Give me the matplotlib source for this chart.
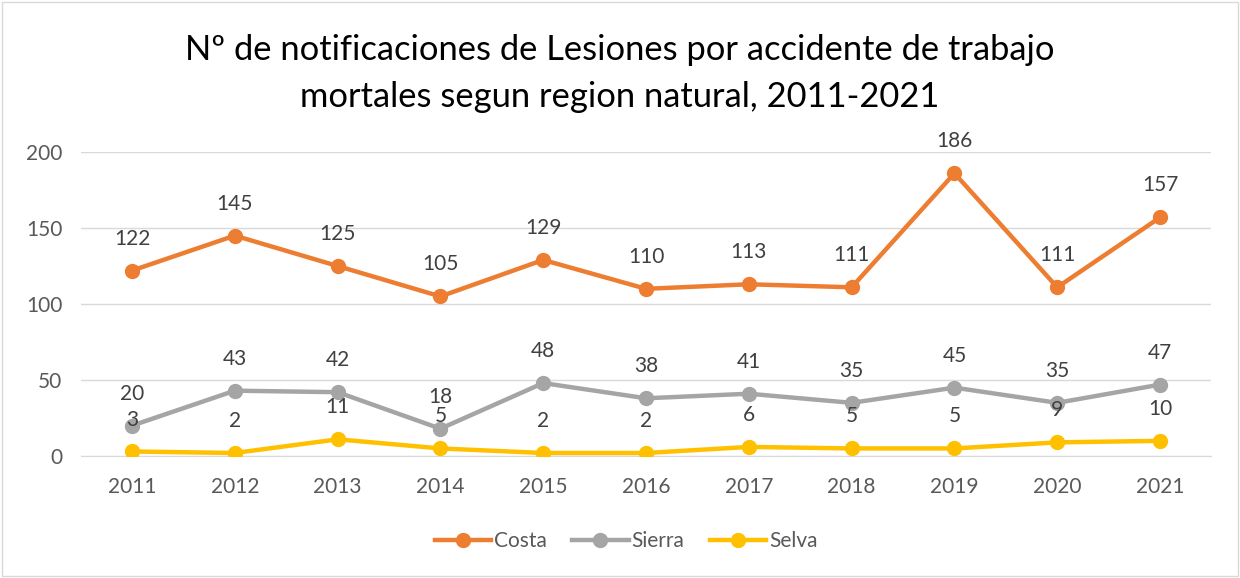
import matplotlib.pyplot as plt
from matplotlib.patches import Rectangle

# Data
years = ['2011', '2012', '2013', '2014', '2015', '2016', '2017', '2018', '2019', '2020', '2021']
costa = [122, 145, 125, 105, 129, 110, 113, 111, 186, 111, 157]
sierra = [20, 43, 42, 18, 48, 38, 41, 35, 45, 35, 47]
selva = [3, 2, 11, 5, 2, 2, 6, 5, 5, 9, 10]

TEXT_COLOR = '#595959'
plt.rcParams['font.family'] = ['Lato', 'DejaVu Sans']


def plot_chart():
    fig = plt.figure(figsize=(12.4, 5.78), dpi=100)
    ax = fig.add_axes([0.065, 0.211, 0.912, 0.526])

    x = list(range(len(years)))
    series = [('Costa', costa, '#ED7D31'),
              ('Sierra', sierra, '#A5A5A5'),
              ('Selva', selva, '#FFC000')]
    for name, vals, color in series:
        ax.plot(x, vals, color=color, linewidth=3.2, marker='o', markersize=10,
                label=name, zorder=3)
        for xi, v in zip(x, vals):
            ax.annotate(str(v), (xi, v), xytext=(0, 23), textcoords='offset points',
                        ha='center', va='center', fontsize=15, color='#404040')

    ax.set_xlim(-0.5, len(years) - 0.5)
    ax.set_ylim(0, 200)
    ax.set_yticks([0, 50, 100, 150, 200])
    ax.set_xticks(x)
    ax.set_xticklabels(years)
    ax.tick_params(axis='y', length=0, labelsize=15, labelcolor=TEXT_COLOR, pad=13)
    ax.tick_params(axis='x', length=0, labelsize=15, labelcolor=TEXT_COLOR, pad=15)
    ax.grid(axis='y', color='#D9D9D9', linewidth=1)
    ax.set_axisbelow(True)
    for side in ['top', 'right', 'left']:
        ax.spines[side].set_visible(False)
    ax.spines['bottom'].set_color('#D9D9D9')

    fig.text(0.5, 0.873, 'Nº de notificaciones de Lesiones por accidente de trabajo\n'
             'mortales segun region natural, 2011-2021',
             ha='center', va='center', fontsize=24.8, color='black', linespacing=1.56)

    fig.legend(loc='center', bbox_to_anchor=(0.505, 0.064), ncol=3, frameon=False,
               fontsize=15, labelcolor=TEXT_COLOR, handlelength=2.7, columnspacing=1.2,
               handletextpad=0.15)

    fig.patches.append(Rectangle((0.002, 0.003), 0.996, 0.994, transform=fig.transFigure,
                                 fill=False, edgecolor='#D9D9D9', linewidth=1))

    fig.savefig('out.png', dpi=100)
    plt.close(fig)


if __name__ == '__main__':
    plot_chart()
